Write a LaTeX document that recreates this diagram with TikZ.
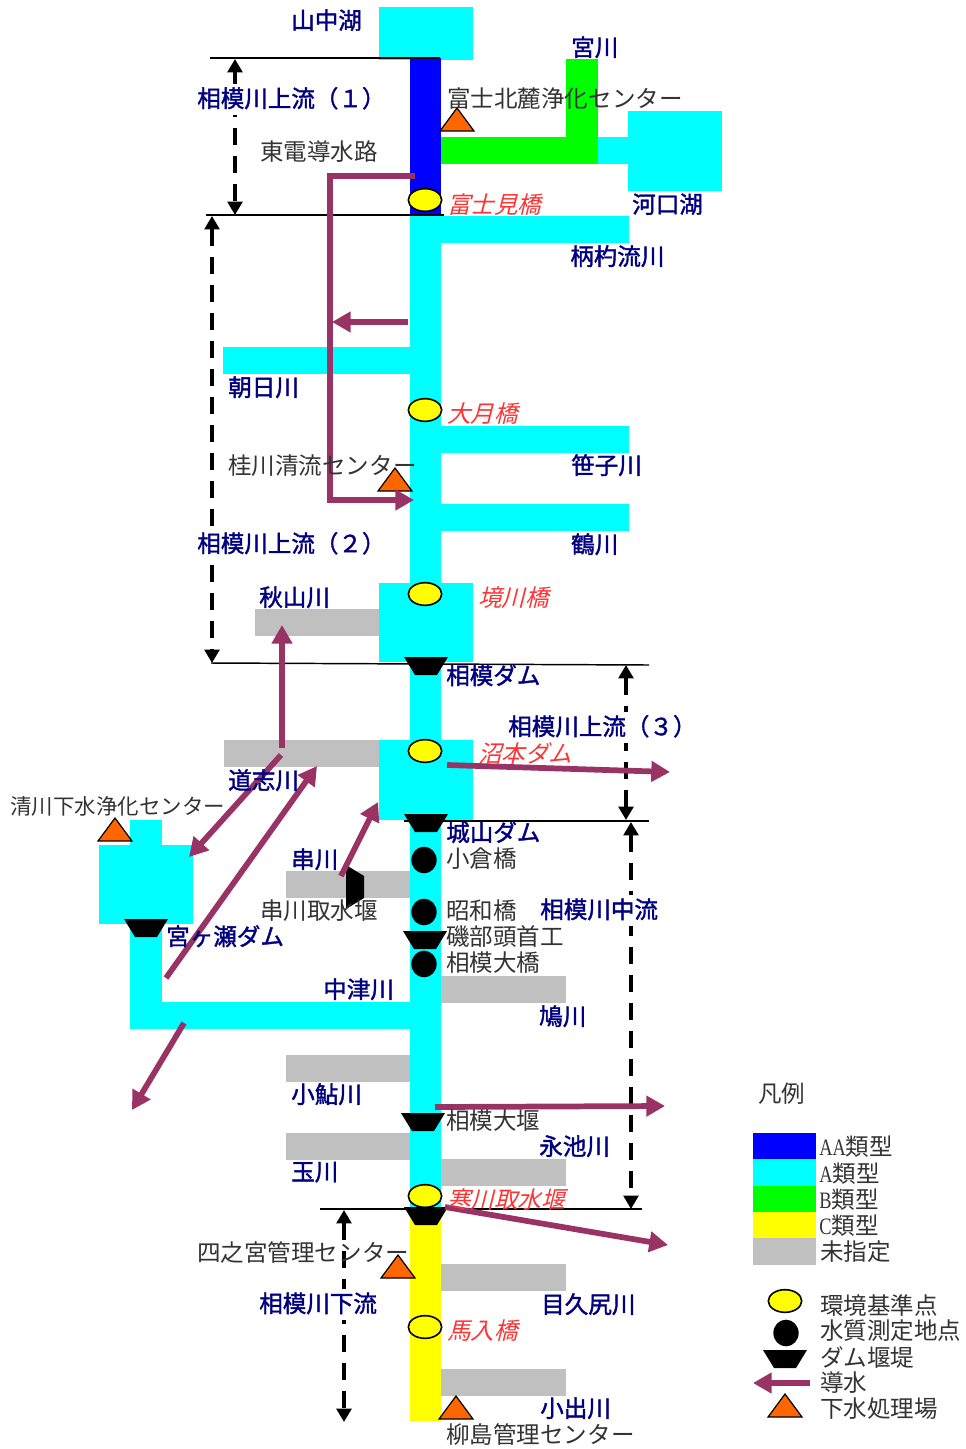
\documentclass[tikz,border=0pt]{standalone}
\usepackage{fontspec}
\setmainfont{Noto Sans CJK JP}
\newfontfamily\slantfont[FakeSlant=0.25]{Noto Sans CJK JP}
\newfontfamily\riverfont[FakeBold=1.6]{Noto Sans CJK JP}
\newfontfamily\narrowfont[FakeStretch=0.78]{Liberation Serif}
\usetikzlibrary{arrows.meta,shapes.geometric}
\definecolor{aaclass}{HTML}{0000FF}
\definecolor{aclass}{HTML}{00FFFF}
\definecolor{bclass}{HTML}{00FF00}
\definecolor{cclass}{HTML}{FFFF00}
\definecolor{noclass}{HTML}{C0C0C0}
\definecolor{transfer}{HTML}{993366}
\definecolor{plant}{HTML}{FF6600}
\definecolor{rivername}{HTML}{000080}
\definecolor{placename}{HTML}{333333}
\definecolor{pointname}{HTML}{FF3333}
\tikzset{
  river/.style = {font=\fontsize{17.65}{20}\selectfont\riverfont, text=rivername, anchor=west, inner sep=0pt, yshift=.6pt},
  section/.style = {river, fill=white, text height=16pt, text depth=4pt, inner ysep=1.5pt},
  place/.style = {font=\fontsize{17.65}{20}\selectfont, text=placename, anchor=west, inner sep=0pt},
  point/.style = {font=\fontsize{17.65}{20}\selectfont\slantfont, text=pointname, anchor=west, inner sep=0pt, yshift=.6pt},
  base/.style = {ellipse, draw=black, line width=1.2pt, fill=cclass, minimum width=25pt, minimum height=17pt, inner sep=0pt},
  gauge/.style = {ellipse, fill=black, minimum width=19pt, minimum height=20pt, inner sep=0pt},
  dam/.pic = {\fill[black] (-22,-9) -- (22,-9) -- (11,9) -- (-11,9) -- cycle;},
  works/.pic = {\filldraw[fill=plant,draw=black,line width=.9pt] (-17,11) -- (17,11) -- (0,-12) -- cycle;},
  edge/.style = {transfer, line width=4.3pt, -{Triangle[length=14pt,width=15pt]}},
  span/.style = {black, line width=2.5pt, dash pattern=on 13pt off 8pt, {Triangle[length=10pt,width=11pt]}-{Triangle[length=10pt,width=11pt]}},
  border/.style = {black, line width=1.1pt}
}
\begin{document}
\begin{tikzpicture}[x=.75pt,y=-.75pt]
        \useasboundingbox (0,0) rectangle (966,1449);
        % water bodies
        \foreach \xa/\ya/\xb/\yb in {379/7/473/60,628/111/722/191,598/137/628/164,410/215/441/583,441/216/629/243,223/347/410/374,441/426/629/453,441/504/629/531,379/583/473/662,410/662/441/740,379/740/473/820,410/820/441/1210,130/820/162/845,99/845/193/924,130/924/162/1029,130/1002/410/1029}
            \fill[aclass] (\xa,\ya) rectangle (\xb,\yb);
        \fill[aaclass] (410,58) rectangle (441,215);
        \fill[bclass] (441,137) rectangle (598,164);
        \fill[bclass] (566,59) rectangle (598,137);
        \fill[cclass] (410,1210) rectangle (441,1421);
        \foreach \xa/\ya/\xb/\yb in {255/609/379/636,224/740/379/767,286/871/410/898,441/976/566/1003,286/1055/410/1082,286/1133/410/1160,441/1159/566/1186,441/1264/566/1291,441/1369/566/1396}
            \fill[noclass] (\xa,\ya) rectangle (\xb,\yb);

        % legend colours
        \fill[aaclass] (753,1133) rectangle (816,1159);
        \fill[aclass] (753,1159) rectangle (816,1186);
        \fill[bclass] (753,1186) rectangle (816,1212);
        \fill[cclass] (753,1212) rectangle (816,1238);
        \fill[noclass] (753,1238) rectangle (816,1265);

        % section borders
        \coordinate (up1a) at (210,58);
        \coordinate (up1b) at (440,58);
        \coordinate (up2a) at (206,215);
        \coordinate (up2b) at (444,215);
        \coordinate (up3a) at (211,663);
        \coordinate (up3b) at (649,665);
        \coordinate (midA) at (404,821);
        \coordinate (midB) at (649,821);
        \coordinate (lowA) at (320,1209);
        \coordinate (lowB) at (642,1209);
        \draw[border] (up1a) -- (up1b);
        \draw[border] (up2a) -- (up2b);
        \draw[border] (up3a) -- (up3b);
        \draw[border] (midA) -- (midB);
        \draw[border] (lowA) -- (lowB);

        \coordinate (s1t) at (235,59);
        \coordinate (s1b) at (235,215);
        \coordinate (s2t) at (212,216);
        \coordinate (s2b) at (212,663);
        \coordinate (s3t) at (626,665);
        \coordinate (s3b) at (626,820);
        \coordinate (s4t) at (631,822);
        \coordinate (s4b) at (631,1209);
        \coordinate (s5t) at (344,1210);
        \coordinate (s5b) at (344,1422);
        \draw[span] (s1t) -- (s1b);
        \draw[span] (s2t) -- (s2b);
        \draw[span] (s3t) -- (s3b);
        \draw[span] (s4t) -- (s4b);
        \draw[span] (s5t) -- (s5b);

        % symbols
        \node[base] (fujimi) at (425,200) {};
        \node[base] (otsuki) at (425,410) {};
        \node[base] (sakai) at (425,594) {};
        \node[base] (numamoto) at (425,751) {};
        \node[base] (samukawa) at (425,1196) {};
        \node[base] (banyu) at (425,1327) {};
        \node[gauge] (ogura) at (424,860) {};
        \node[gauge] (showa) at (424,912) {};
        \node[gauge] (ohashi) at (424,964) {};
        \pic at (426,666) {dam};
        \pic at (426,823) {dam};
        \pic at (146,928) {dam};
        \pic at (425,940) {dam};
        \pic at (423,1122) {dam};
        \pic at (426,1216) {dam};
        \pic[rotate=90] at (355,887) {dam};
        \pic at (457,120) {works};
        \pic at (395,480) {works};
        \pic at (115,830) {works};
        \pic at (398,1267) {works};
        \pic at (456,1408) {works};

        % transfers
        \coordinate (tohoA) at (415,176);
        \coordinate (tohoB) at (330,176);
        \coordinate (tohoC) at (330,500);
        \coordinate (tohoD) at (414,500);
        \coordinate (tohoE) at (408,322);
        \coordinate (tohoF) at (332,322);
        \coordinate (doshiA) at (282,748);
        \coordinate (doshiB) at (282,625);
        \coordinate (doshiC) at (281,755);
        \coordinate (doshiD) at (189,857);
        \coordinate (miyaA) at (166,978);
        \coordinate (miyaB) at (317,766);
        \coordinate (kushiA) at (341,876);
        \coordinate (kushiB) at (378,802);
        \coordinate (numaA) at (447,765);
        \coordinate (numaB) at (670,772);
        \coordinate (nakaA) at (184,1023);
        \coordinate (nakaB) at (132,1110);
        \coordinate (oseA) at (435,1107);
        \coordinate (oseB) at (665,1106);
        \coordinate (samuA) at (445,1207);
        \coordinate (samuB) at (668,1245);

        % names with a white ground
        \node[section] (l3) at (197,100) {相模川上流（１）};
        \node[section] (l13) at (197,545) {相模川上流（２）};
        \node[section] (l18) at (508,728) {相模川上流（３）};
        \node[section] (l27) at (540,911) {相模川中流};
        \node[section] (l39) at (259,1305) {相模川下流};

        \draw[edge] (tohoA) -- (tohoB) -- (tohoC) -- (tohoD);
        \draw[edge] (tohoE) -- (tohoF);
        \draw[edge] (doshiA) -- (doshiB);
        \draw[edge] (doshiC) -- (doshiD);
        \draw[edge] (miyaA) -- (miyaB);
        \draw[edge] (kushiA) -- (kushiB);
        \draw[edge] (numaA) -- (numaB);
        \draw[edge] (nakaA) -- (nakaB);
        \draw[edge] (oseA) -- (oseB);
        \draw[edge] (samuA) -- (samuB);

        % names
        \node[river] (l1) at (291,21) {山中湖};
        \node[river] (l2) at (571,48) {宮川};
        \node[place] (l4) at (447,99) {富士北麓浄化センター};
        \node[place] (l5) at (260,152) {東電導水路};
        \node[point] (l6) at (447,205) {富士見橋};
        \node[river] (l7) at (632,205) {河口湖};
        \node[river] (l8) at (570,257) {柄杓流川};
        \node[river] (l9) at (228,388) {朝日川};
        \node[point] (l10) at (447,414) {大月橋};
        \node[place] (l11) at (228,466) {桂川清流センター};
        \node[river] (l12) at (571,466) {笹子川};
        \node[river] (l14) at (571,545) {鶴川};
        \node[river] (l15) at (259,598) {秋山川};
        \node[point] (l16) at (478,598) {境川橋};
        \node[river] (l17) at (446,676) {相模ダム};
        \node[point] (l19) at (478,754) {沼本ダム};
        \node[river] (l20) at (228,781) {道志川};
        \node[place,font=\fontsize{16.1}{20}\selectfont] (l21) at (10,806) {清川下水浄化センター};
        \node[river] (l22) at (446,833) {城山ダム};
        \node[river] (l23) at (291,860) {串川};
        \node[place] (l24) at (446,859) {小倉橋};
        \node[place] (l25) at (260,911) {串川取水堰};
        \node[place] (l26) at (446,911) {昭和橋};
        \node[river] (l28) at (166,937) {宮ヶ瀬ダム};
        \node[place] (l29) at (446,937) {磯部頭首工};
        \node[place] (l30) at (446,963) {相模大橋};
        \node[river] (l31) at (323,990) {中津川};
        \node[river] (l32) at (539,1017) {鳩川};
        \node[river] (l33) at (291,1095) {小鮎川};
        \node[place] (l34) at (446,1121) {相模大堰};
        \node[river] (l35) at (539,1147) {永池川};
        \node[river] (l36) at (291,1173) {玉川};
        \node[point] (l37) at (447,1200) {寒川取水堰};
        \node[place] (l38) at (197,1252) {四之宮管理センター};
        \node[river] (l40) at (541,1305) {目久尻川};
        \node[point] (l41) at (447,1331) {馬入橋};
        \node[river] (l42) at (540,1409) {小出川};
        \node[place] (l43) at (446,1435) {柳島管理センター};

        % legend
        \node[place] (key) at (758,1094) {凡例};
        \node[place] (keyaa) at (819,1147) {{\narrowfont AA}類型};
        \node[place] (keya) at (819,1174) {{\narrowfont A}類型};
        \node[place] (keyb) at (819,1200) {{\narrowfont B}類型};
        \node[place] (keyc) at (819,1226) {{\narrowfont C}類型};
        \node[place] (keyn) at (820,1252) {未指定};
        \node[base] (symbase) at (785,1301) {};
        \node[gauge] (symgauge) at (786,1333) {};
        \pic at (785,1359) {dam};
        \coordinate (symA) at (810,1383);
        \coordinate (symB) at (753,1383);
        \draw[edge] (symA) -- (symB);
        \pic at (785,1406) {works};
        \node[place] (key1) at (820,1305) {環境基準点};
        \node[place] (key2) at (820,1331) {水質測定地点};
        \node[place] (key3) at (820,1357) {ダム堰堤};
        \node[place] (key4) at (820,1383) {導水};
        \node[place] (key5) at (820,1409) {下水処理場};
\end{tikzpicture}
\end{document}
